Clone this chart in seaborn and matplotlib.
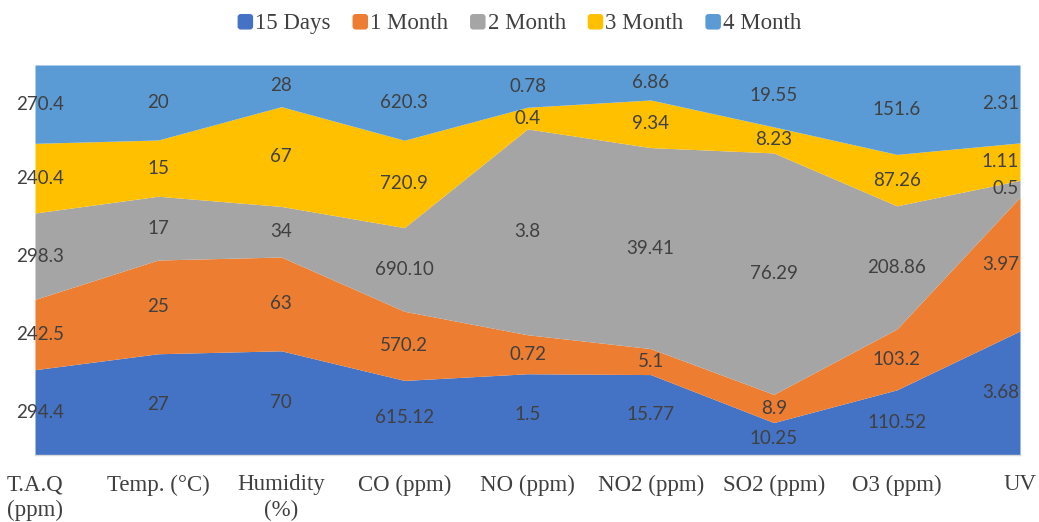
import numpy as np
import matplotlib
matplotlib.use("Agg")
import matplotlib.pyplot as plt
from matplotlib.patches import FancyBboxPatch
from matplotlib.legend_handler import HandlerPatch
import seaborn as sns

# Categories along the x axis
categories = ["T.A.Q\n(ppm)", "Temp. (°C)", "Humidity\n(%)", "CO (ppm)", "NO (ppm)",
              "NO2 (ppm)", "SO2 (ppm)", "O3 (ppm)", "UV"]

# Measured values per exposure period (kept as text so the labels print exactly)
days_15 = ["294.4", "27", "70", "615.12", "1.5", "15.77", "10.25", "110.52", "3.68"]
month_1 = ["242.5", "25", "63", "570.2", "0.72", "5.1", "8.9", "103.2", "3.97"]
month_2 = ["298.3", "17", "34", "690.10", "3.8", "39.41", "76.29", "208.86", "0.5"]
month_3 = ["240.4", "15", "67", "720.9", "0.4", "9.34", "8.23", "87.26", "1.11"]
month_4 = ["270.4", "20", "28", "620.3", "0.78", "6.86", "19.55", "151.6", "2.31"]

series_names = ["15 Days", "1 Month", "2 Month", "3 Month", "4 Month"]
series_text = [days_15, month_1, month_2, month_3, month_4]
series_colors = ["#4472C4", "#ED7D31", "#A5A5A5", "#FFC000", "#5B9BD5"]

sns.set_theme(style="white")
plt.rcParams["font.family"] = ["Liberation Serif", "DejaVu Serif"]

values = np.array([[float(v) for v in s] for s in series_text])
shares = values / values.sum(axis=0)          # 100% stacked
x = np.arange(len(categories))

fig = plt.figure(figsize=(10.39, 5.22), dpi=100)
ax = fig.add_axes([35 / 1039, 1 - 455 / 522, (1020 - 35) / 1039, (455 - 65) / 522])

palette = sns.color_palette(series_colors)
ax.stackplot(x, shares, colors=palette, labels=series_names, linewidth=0)

# Data labels at the middle of each band
tops = np.cumsum(shares, axis=0)
mids = tops - shares / 2
last = len(categories) - 1
for s, texts in enumerate(series_text):
    for i, t in enumerate(texts):
        if i == last:
            xi, ha = i - 0.01, "right"
        elif i == 0:
            xi, ha = i + 0.04, "center"
        else:
            xi, ha = i, "center"
        ax.text(xi, mids[s, i], t, ha=ha, va="center", fontsize=13.5,
                family=["Lato", "DejaVu Sans"], color="#404040", clip_on=False)

ax.set_xlim(0, last)
ax.set_ylim(0, 1)
ax.set_yticks([])
ax.set_xticks(x)
ax.set_xticklabels(categories, fontsize=16.5, color="#404040", linespacing=1.25)
ax.tick_params(axis="x", length=0, pad=14)
for side in ["top", "left", "right"]:
    ax.spines[side].set_visible(False)
ax.spines["bottom"].set_color("#D9D9D9")
ax.spines["bottom"].set_linewidth(1)


class RoundSquare(HandlerPatch):
    """Small rounded square legend key."""

    def create_artists(self, legend, orig_handle, xdescent, ydescent, width, height,
                       fontsize, trans):
        side = height * 0.95
        y0 = -ydescent + (height - side) / 2 - height * 0.05
        p = FancyBboxPatch((-xdescent, y0), side, side,
                           boxstyle="round,pad=0,rounding_size=%g" % (side * 0.2),
                           facecolor=orig_handle.get_facecolor(), edgecolor="none",
                           transform=trans)
        return [p]


handles, labels = ax.get_legend_handles_labels()
fig.legend(handles, labels, loc="upper center", bbox_to_anchor=(0.5, 1.015), ncol=5,
           frameon=False, fontsize=16.5, handlelength=0.72, handleheight=0.72,
           handletextpad=0.05, columnspacing=0.95, labelcolor="#404040",
           handler_map={h: RoundSquare() for h in handles})

fig.savefig("out.png", dpi=100)
